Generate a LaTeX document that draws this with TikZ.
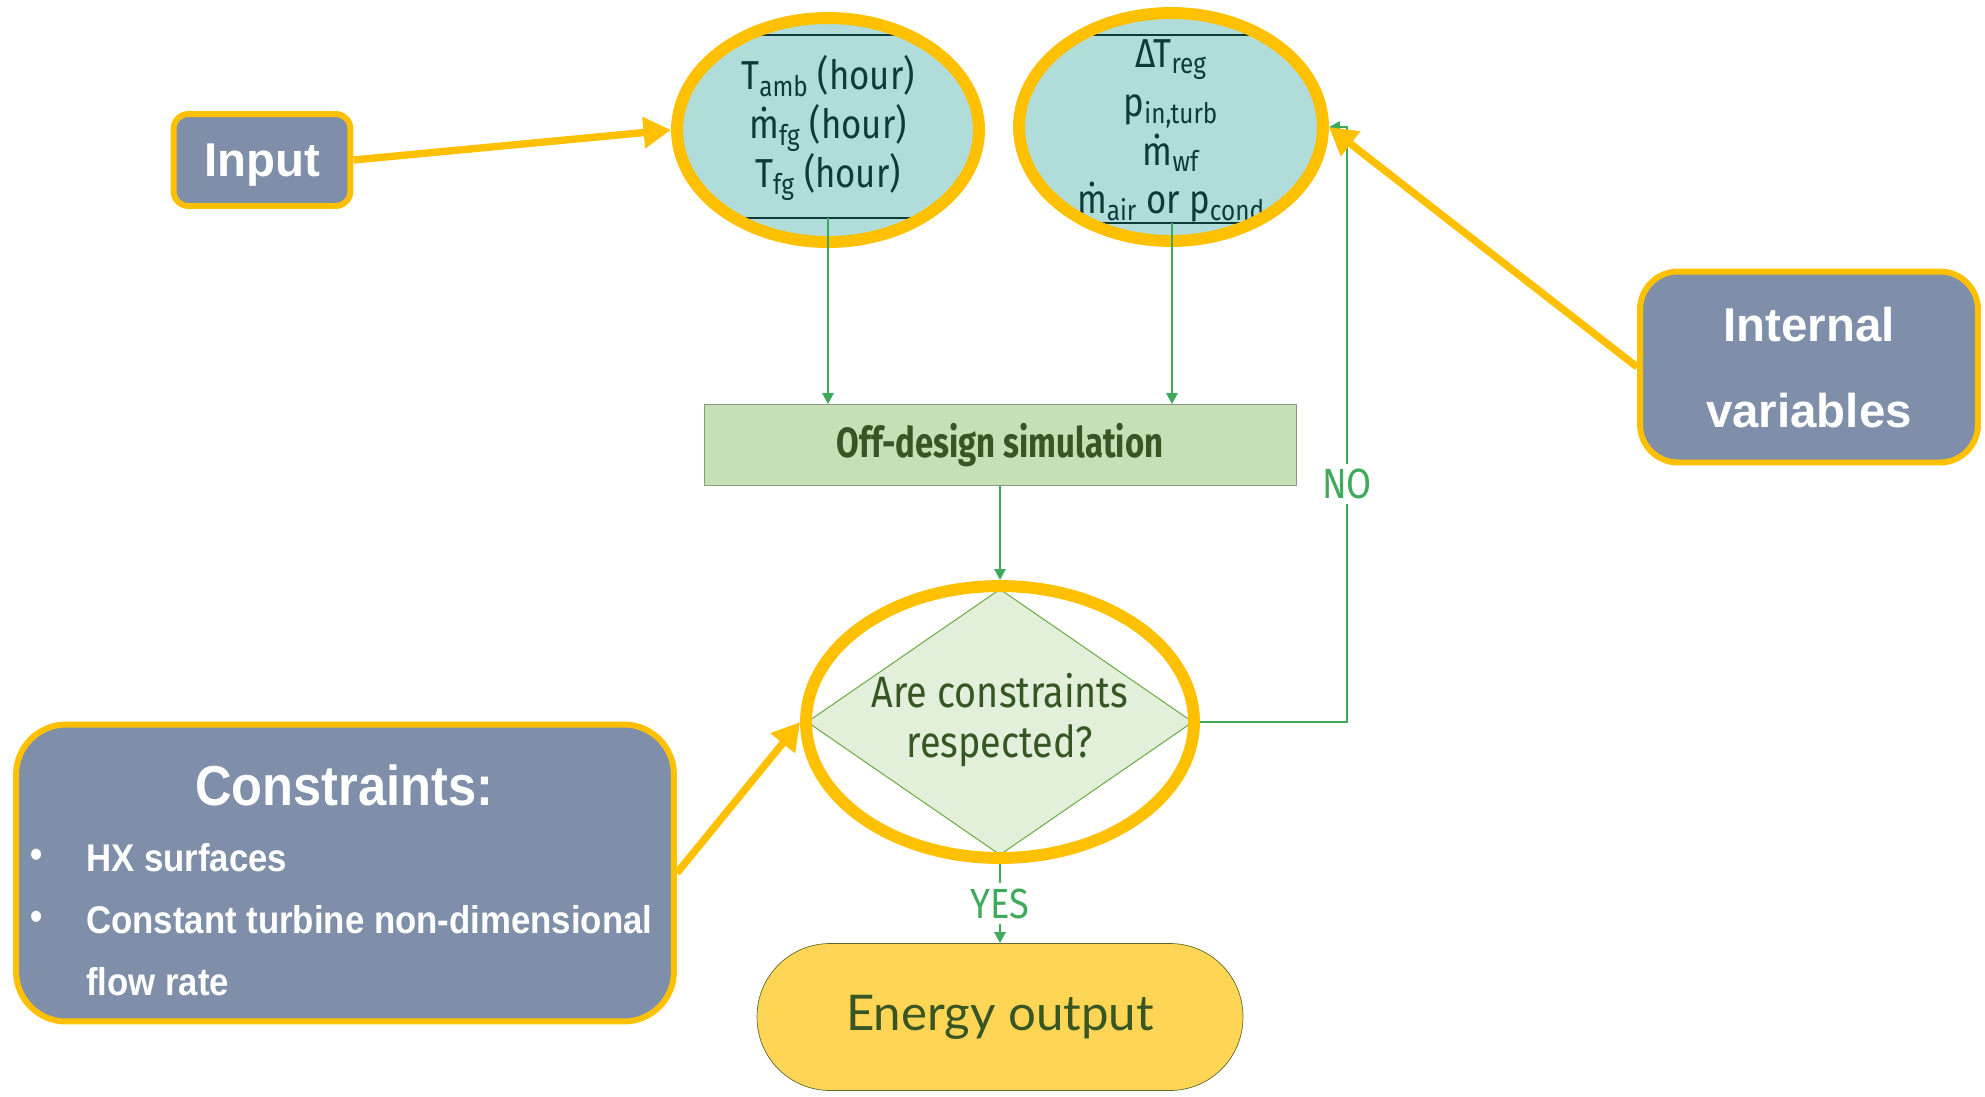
\documentclass[tikz,border=0pt]{standalone}
\usepackage{fontspec}
\setmainfont{Fira Sans}
\newfontfamily\labelfont{Liberation Sans}
\newfontfamily\narrowlabelfont[FakeStretch=0.9]{Liberation Sans}
\newfontfamily\condfont[FakeStretch=0.86]{Fira Sans}
\newfontfamily\simfont[FakeStretch=0.78]{Fira Sans}
\newfontfamily\latofont{Lato}
\usetikzlibrary{shapes.geometric,arrows.meta}

\definecolor{gold}{HTML}{FFC000}
\definecolor{slate}{HTML}{7F8FA9}
\definecolor{tealfill}{HTML}{B0DDDA}
\definecolor{textteal}{HTML}{0E3A37}
\definecolor{flowgreen}{HTML}{3FAA5C}
\definecolor{darkgreen}{HTML}{375623}
\definecolor{simfill}{HTML}{C5E0B4}
\definecolor{simline}{HTML}{8A9A80}
\definecolor{checkfill}{HTML}{E2EFDA}
\definecolor{checkline}{HTML}{70AD47}
\definecolor{outfill}{HTML}{FFD556}
\definecolor{outline}{HTML}{5E6B2E}

\begin{document}
\begin{tikzpicture}[x=0.02cm,y=-0.02cm,
  ring/.style={ellipse,draw=gold,line width=6.8pt,inner sep=0pt},
  tag/.style={draw=gold,fill=slate,line width=3.4pt,text=white,align=center,inner sep=0pt,text depth=0pt},
  flow/.style={draw=flowgreen,line width=1.4pt,-{Triangle[length=0.22cm,width=0.22cm]}},
  pointer/.style={draw=gold,line width=4.2pt,-{Triangle[length=0.55cm,width=0.6cm]}},
  vartext/.style={font=\condfont\fontsize{23}{27.8}\selectfont,text=textteal,align=center},
  answer/.style={fill=white,text=flowgreen,font=\condfont\fontsize{24}{26}\selectfont,inner sep=3pt},
  bullet/.style={anchor=west,text=white,font=\narrowlabelfont\bfseries\fontsize{22}{26}\selectfont}]

\useasboundingbox (0,0) rectangle (1985,1096);

% input variables
\fill[tealfill] (828,130) ellipse [x radius=151,y radius=112];
\begin{scope}
\clip (828,130) ellipse [x radius=151,y radius=112];
\draw[textteal,line width=0.8pt] (600,35) rectangle (1060,218);
\end{scope}
\node[vartext] (intext) at (828,128) {T\textsubscript{amb} (hour)\\ṁ\textsubscript{fg} (hour)\\T\textsubscript{fg} (hour)};
\node[ring,minimum width=6.04cm,minimum height=4.48cm] (inring) at (828,130) {};
\coordinate (inbot) at (828,218);

% internal variables
\fill[tealfill] (1171,127) ellipse [x radius=152,y radius=114];
\begin{scope}
\clip (1171,127) ellipse [x radius=152,y radius=114];
\draw[textteal,line width=0.8pt] (950,35) rectangle (1400,223);
\end{scope}
\node[vartext] (outtext) at (1171,131) {ΔT\textsubscript{reg}\\p\textsubscript{in,turb}\\ṁ\textsubscript{wf}\\ṁ\textsubscript{air} or p\textsubscript{cond}};
\node[ring,minimum width=6.08cm,minimum height=4.56cm] (outring) at (1171,127) {};
\coordinate (outbot) at (1172,223);

% simulation and check
\node[draw=simline,fill=simfill,minimum width=11.84cm,minimum height=1.62cm,
  font=\simfont\bfseries\fontsize{24}{26}\selectfont,text=darkgreen] (sim) at (1000,445) {Off-design simulation};
\node[diamond,draw=checkline,fill=checkfill,line width=0.6pt,minimum width=7.72cm,minimum height=5.32cm,inner sep=0pt] (check) at (1000,722) {};
\node[font=\condfont\fontsize{25}{28}\selectfont,text=darkgreen,align=center] (checktext) at (1000,720) {Are constraints\\respected?};
\node[ring,minimum width=7.76cm,minimum height=5.44cm] (checkring) at (1000,722) {};

\node[draw=outline,fill=outfill,rounded corners=1.46cm,minimum width=9.72cm,minimum height=2.94cm,
  font=\latofont\fontsize{28}{32}\selectfont,text=darkgreen] (energy) at (1000,1017) {Energy output};

\draw[flow] (inbot) -- (inbot |- sim.north);
\draw[flow] (outbot) -- (outbot |- sim.north);
\draw[flow] (sim.south) -- (checkring.north);
\coordinate (noturn) at (1347,722);
\draw[flow] (checkring.east) -- (noturn) -- node[answer,pos=0.4] {NO} (noturn |- outring.east) -- (outring.east);
\draw[flow] (checkring.south) -- node[answer] {YES} (energy.north);

% labels
\node[tag,minimum width=3.54cm,minimum height=1.84cm,rounded corners=0.3cm,
  font=\labelfont\bfseries\fontsize{27}{32}\selectfont] (input) at (262,160) {Input};
\node[tag,minimum width=6.76cm,minimum height=3.82cm,rounded corners=0.76cm,
  font=\labelfont\bfseries\fontsize{27}{48.8}\selectfont] (internal) at (1809,367) {Internal\\variables};
\node[tag,minimum width=13.16cm,minimum height=5.94cm,rounded corners=1cm] (constraints) at (345,873) {};
\node[text=white,font=\narrowlabelfont\bfseries\fontsize{32}{36}\selectfont] (ctitle) at (344,785) {Constraints:};
\node[bullet] (dot1) at (24,858) {•};
\node[bullet] (c1) at (80,858) {HX surfaces};
\node[bullet] (dot2) at (24,920) {•};
\node[bullet] (c2) at (80,920) {Constant turbine non-dimensional};
\node[bullet] (c3) at (80,982) {flow rate};

\draw[pointer] (input.east) -- (inring.west);
\draw[pointer] (internal.west) -- (outring.east);
\draw[pointer] (constraints.east) -- (checkring.west);

\end{tikzpicture}
\end{document}
